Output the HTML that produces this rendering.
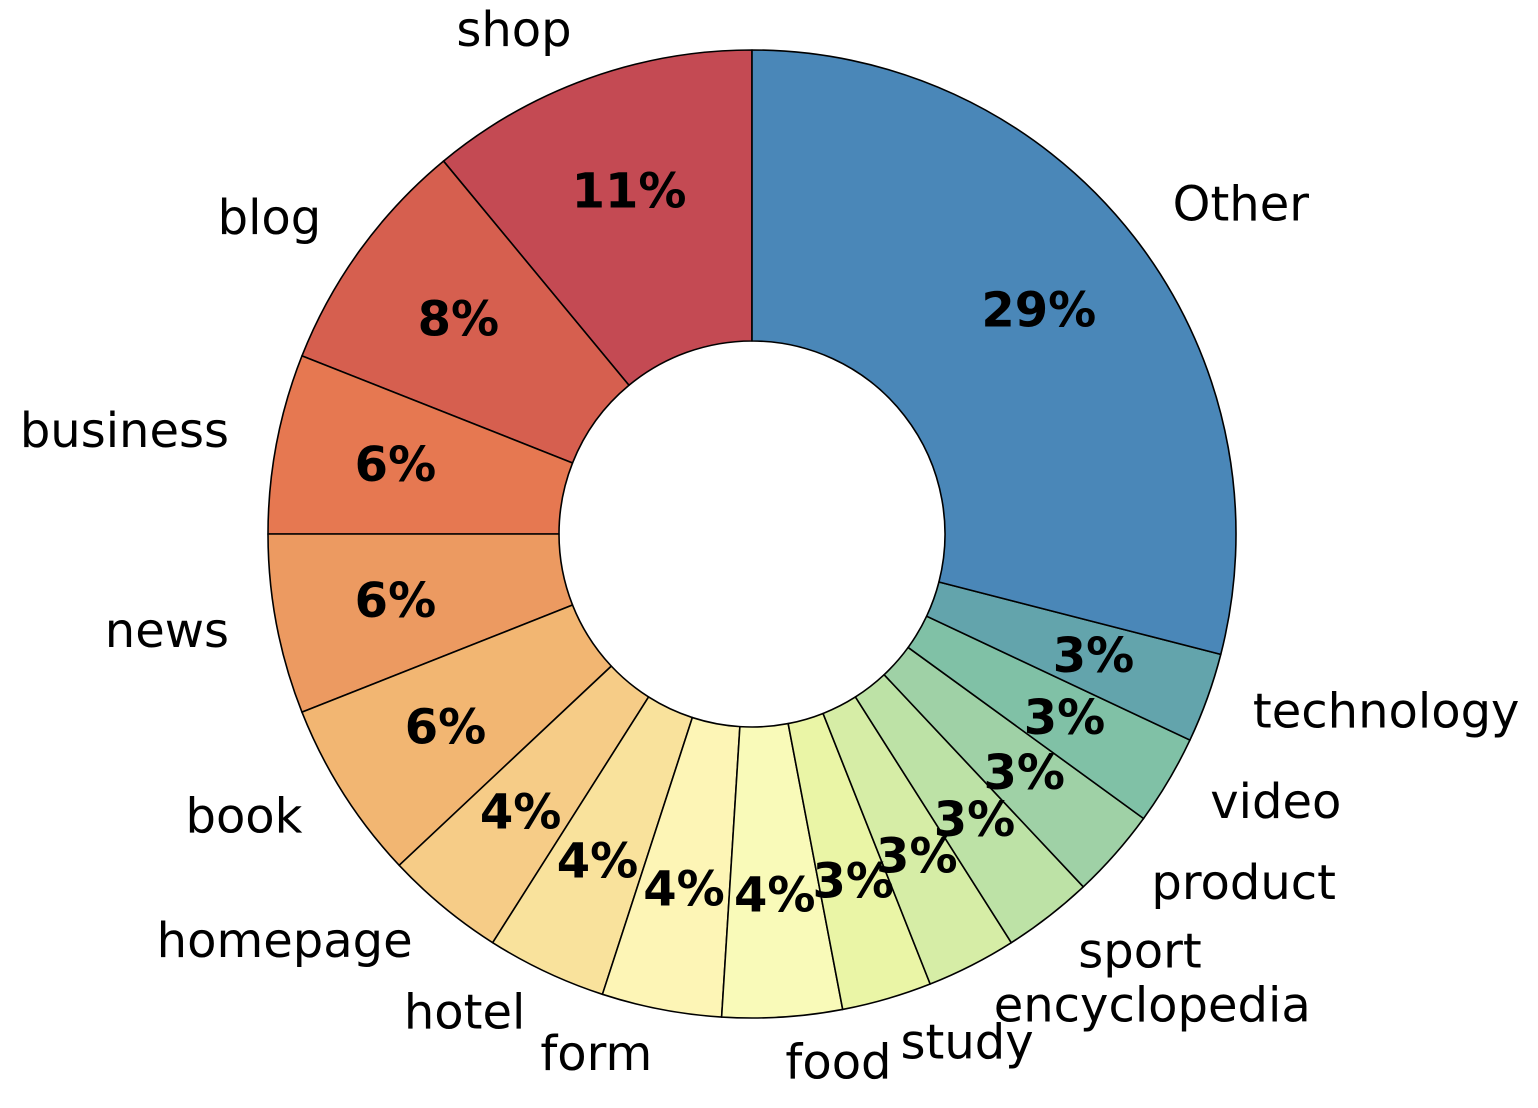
<!DOCTYPE html>
<html><head><meta charset="utf-8"><style>
html,body{margin:0;padding:0;background:#fff;}
svg{display:block;}
text{font-family:"DejaVu Sans","Liberation Sans",sans-serif;}
</style></head><body>
<svg id="chart" width="1538" height="1108" viewBox="0 0 1538 1108" xmlns="http://www.w3.org/2000/svg"></svg>
<script>
const categories = ["shop","blog","business","news","book","homepage","hotel","form","food","study","encyclopedia","sport","product","video","technology","Other"];
const values = [11,8,6,6,6,4,4,4,4,3,3,3,3,3,3,29];
const colors = ["#c44a53","#d65f4f","#e67851","#ec9a61","#f2b672","#f6cc87","#f9e29c","#fdf5b6","#f9fab9","#eaf5a6","#d6eda6","#bde2a6","#9fd1a6","#80c1a6","#63a4ac","#4a87b8"];
const svg = document.getElementById('chart');
const NS = "http://www.w3.org/2000/svg";
const cx = 752, cy = 534, R = 484, r0 = 193;
const total = values.reduce((a,b)=>a+b,0);
function pt(rad, ang){
  return [cx - rad*Math.sin(ang), cy - rad*Math.cos(ang)];
}
let cum = 0;
const gPct = [];
values.forEach((v,i)=>{
  const a0 = cum/total*2*Math.PI;
  const a1 = (cum+v)/total*2*Math.PI;
  cum += v;
  const large = (a1-a0) > Math.PI ? 1 : 0;
  const p0 = pt(R,a0), p1 = pt(R,a1), q1 = pt(r0,a1), q0 = pt(r0,a0);
  const d = `M${p0[0]},${p0[1]} A${R},${R} 0 ${large} 0 ${p1[0]},${p1[1]} L${q1[0]},${q1[1]} A${r0},${r0} 0 ${large} 1 ${q0[0]},${q0[1]} Z`;
  const path = document.createElementNS(NS,'path');
  path.setAttribute('d', d);
  path.setAttribute('fill', colors[i]);
  path.setAttribute('stroke', '#000');
  path.setAttribute('stroke-width', '1.6');
  path.setAttribute('stroke-linejoin', 'round');
  
  
  svg.appendChild(path);
  const am = (a0+a1)/2;
  const lp = pt(R*1.1, am);
  const t = document.createElementNS(NS,'text');
  t.setAttribute('x', lp[0]);
  t.setAttribute('y', lp[1] - 3);
  t.setAttribute('font-size', '48');
  t.setAttribute('dominant-baseline', 'central');
  t.setAttribute('text-anchor', Math.sin(am) > 0 ? 'end' : 'start');
  
  
  t.textContent = categories[i];
  svg.appendChild(t);
  const pp = pt(R*0.75, am);
  const pt2 = document.createElementNS(NS,'text');
  pt2.setAttribute('x', pp[0]);
  pt2.setAttribute('y', pp[1] - 1);
  pt2.setAttribute('font-size', '48');
  pt2.setAttribute('font-weight', 'bold');
  pt2.setAttribute('dominant-baseline', 'central');
  pt2.setAttribute('text-anchor', 'middle');
  
  
  pt2.textContent = Math.round(v/total*100) + '%';
  gPct.push(pt2);
});
gPct.forEach(e=>svg.appendChild(e));
</script>
</body></html>
